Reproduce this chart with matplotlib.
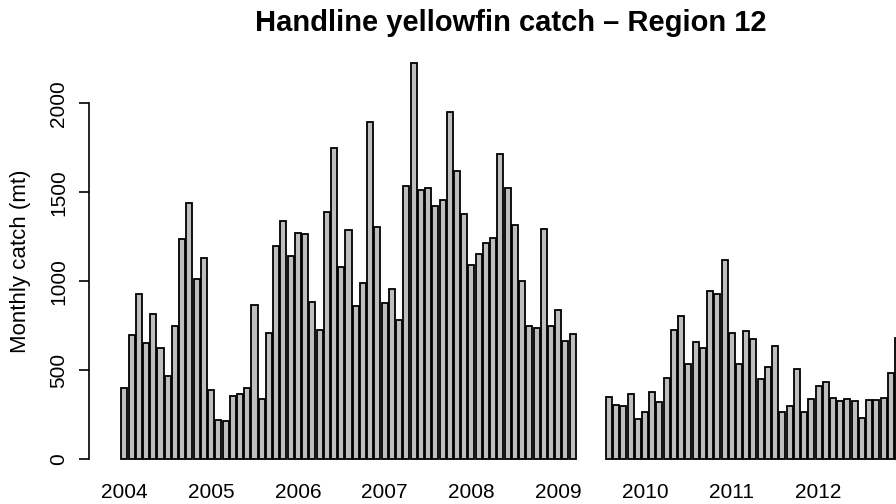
import numpy as np
import matplotlib.pyplot as plt

plt.rcParams['font.family'] = ['Liberation Sans', 'DejaVu Sans']

# monthly handline yellowfin catch (mt), Region 12; nan = no data
years = [2004, 2005, 2006, 2007, 2008, 2009, 2010, 2011, 2012]
catch_2004 = [403, 697, 931, 653, 815, 627, 466, 747, 1240, 1440, 1015, 1131]
catch_2005 = [388, 219, 215, 354, 369, 400, 865, 337, 710, 1197, 1339, 1140]
catch_2006 = [1271, 1264, 884, 729, 1389, 1749, 1080, 1287, 863, 993, 1895, 1305]
catch_2007 = [880, 957, 781, 1536, 2226, 1515, 1526, 1421, 1455, 1951, 1618, 1376]
catch_2008 = [1090, 1152, 1215, 1245, 1717, 1522, 1315, 1002, 747, 736, 1292, 747]
catch_2009 = [841, 665, 702, np.nan, np.nan, np.nan, np.nan, 350, 307, 300, 365, 229]
catch_2010 = [266, 376, 322, 457, 725, 803, 537, 659, 627, 944, 927, 1122]
catch_2011 = [710, 534, 721, 678, 451, 519, 635, 266, 302, 506, 266, 337]
catch_2012 = [410, 434, 347, 326, 337, 326, 234, 331, 331, 344, 487, 684]

catch = np.concatenate([catch_2004, catch_2005, catch_2006, catch_2007, catch_2008,
                        catch_2009, catch_2010, catch_2011, catch_2012])
months = np.arange(len(catch))

fig = plt.figure(figsize=(8.96, 5.04), dpi=100)
# plot region runs past the right edge, like the cropped original
ax = fig.add_axes([0.0997, 0.0573, 0.9417, 0.849])

ok = ~np.isnan(catch)
ax.bar(months[ok], catch[ok], width=1 / 1.2, color='#bebebe', edgecolor='black', linewidth=1.3)

ax.set_xlim(-4.84, len(catch) - 1 + 4.84)
ax.set_ylim(-89, 2315)

for side in ['top', 'right', 'bottom']:
    ax.spines[side].set_visible(False)
ax.spines['left'].set_bounds(0, 2000)
ax.spines['left'].set_linewidth(1.2)

ax.set_yticks([0, 500, 1000, 1500, 2000])
ax.set_yticklabels(['0', '500', '1000', '1500', '2000'], rotation=90, va='center')
ax.tick_params(axis='y', length=7, width=1.2, pad=8, labelsize=15)

ax.set_xticks(months[::12])
ax.set_xticklabels([str(y) for y in years])
ax.tick_params(axis='x', length=0, pad=6, labelsize=15)

ax.set_ylabel('Monthly catch (mt)', fontsize=16, labelpad=13)
fig.text(0.57, 0.955, 'Handline yellowfin catch \u2013 Region 12', ha='center', va='center',
         fontsize=21, fontweight='bold')

fig.savefig('out.png', dpi=100)
